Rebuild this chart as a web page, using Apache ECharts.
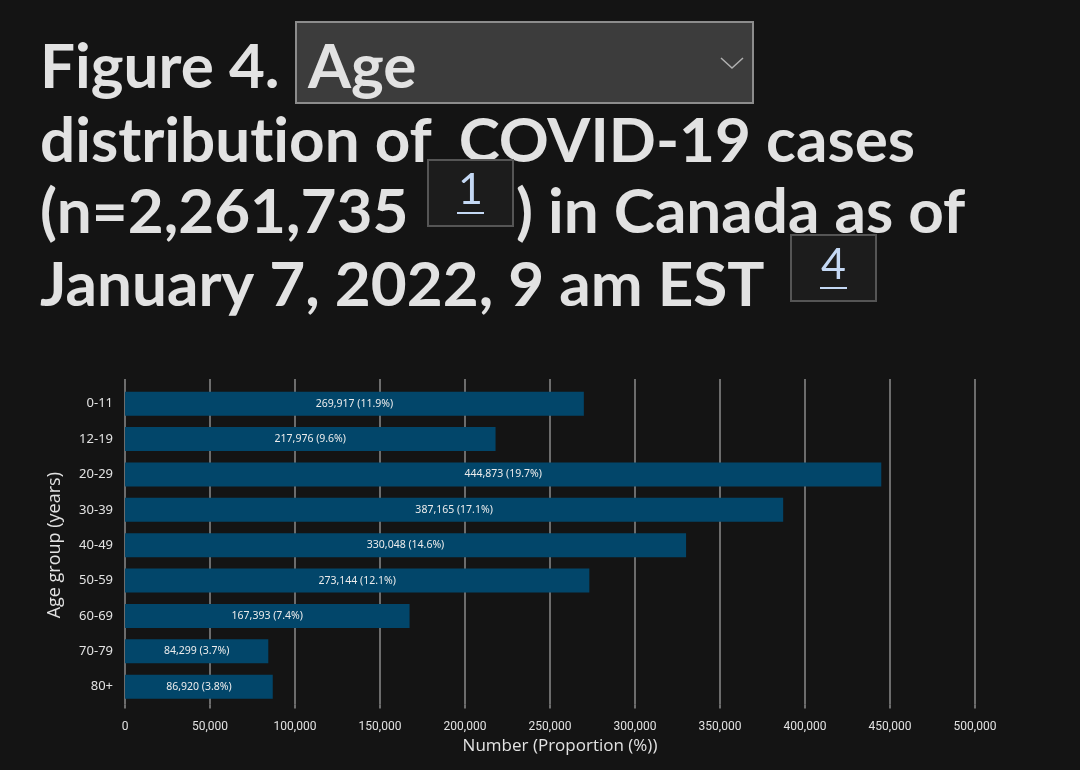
<!DOCTYPE html>
<html>
<head>
<meta charset="utf-8">
<title>Figure 4. Age distribution of COVID-19 cases</title>
<script src="https://cdn.jsdelivr.net/npm/echarts@6/dist/echarts.min.js"></script>
<style>
html, body { margin: 0; padding: 0; background: #141414; }
#chart { width: 1080px; height: 770px; }
</style>
</head>
<body>
<div id="chart"></div>
<script>
/* data */
var ageGroups = ["0-11", "12-19", "20-29", "30-39", "40-49", "50-59", "60-69", "70-79", "80+"];
var caseCounts = [269917, 217976, 444873, 387165, 330048, 273144, 167393, 84299, 86920];
var caseShares = [11.9, 9.6, 19.7, 17.1, 14.6, 12.1, 7.4, 3.7, 3.8];

// \u200C keeps Lato from drawing the "ti" ligature
var titleLines = ["Figure 4.", "distribut\u200Cion of", "COVID-19 cases", "(n=2,261,735", ") in Canada as of", "January 7, 2022, 9 am EST"];
var dropdownText = "Age";
var footnotes = ["1", "4"];

var titleColor = "#e2e2e2";
var titleFont = "bold 62px Lato";

function fmt(n) {
    return n.toString().replace(/\B(?=(\d{3})+(?!\d))/g, ",");
}

function titleText(str, x, y, align) {
    return {
        type: "text",
        x: x, y: y,
        style: { text: str, font: titleFont, fill: titleColor, align: align || "left", verticalAlign: "middle" }
    };
}

function footnoteBox(num, x, y) {
    return {
        type: "group",
        x: x, y: y,
        z: 10,
        children: [
            { type: "rect", shape: { x: 0, y: 0, width: 85, height: 66 },
              style: { fill: "#1c1c1c", stroke: "#555555", lineWidth: 2 } },
            { type: "text", x: 42.5, y: 30,
              style: { text: num, font: "43px Lato", fill: "#c4d8f4", align: "center", verticalAlign: "middle" } },
            { type: "line", shape: { x1: 29, y1: 53, x2: 56, y2: 53 },
              style: { stroke: "#c4d8f4", lineWidth: 2 } }
        ]
    };
}

var labels = [];
for (var i = 0; i < caseCounts.length; ++ i) {
    labels.push(fmt(caseCounts[i]) + " (" + caseShares[i].toFixed(1) + "%)");
}

var chart = echarts.init(document.getElementById("chart"));
var option = {
    backgroundColor: "#141414",
    animation: false,
    grid: { left: 125, right: 105, top: 386, height: 318.4 },
    xAxis: [{
        type: "value",
        min: 0, max: 500000, interval: 50000,
        name: "Number (Proportion (%))",
        nameLocation: "middle",
        nameGap: 33,
        nameTextStyle: { color: "#e2e2e2", fontFamily: "Open Sans", fontSize: 17, padding: [0, 0, 0, 20] },
        axisLine: { show: false },
        axisTick: { show: true, length: 4, lineStyle: { color: "#8a8a8a", width: 1.5 } },
        axisLabel: {
            color: "#e2e2e2", fontFamily: "Roboto", fontSize: 12, margin: 17,
            formatter: function (v) { return fmt(v); }
        },
        splitLine: { show: true, lineStyle: { color: "#8a8a8a", width: 1.5 } }
    }, {
        type: "value",
        position: "top",
        min: 0, max: 500000, interval: 50000,
        axisLine: { show: false },
        axisTick: { show: true, length: 7, lineStyle: { color: "#8a8a8a", width: 1.5 } },
        axisLabel: { show: false },
        splitLine: { show: false }
    }],
    yAxis: {
        type: "category",
        inverse: true,
        data: ageGroups,
        name: "Age group (years)",
        nameLocation: "middle",
        nameGap: 61,
        nameRotate: 90,
        nameTextStyle: { color: "#e2e2e2", fontFamily: "Open Sans", fontSize: 18 },
        axisLine: { show: false },
        axisTick: { show: false },
        axisLabel: { color: "#e2e2e2", fontFamily: "Noto Sans", fontSize: 13, margin: 12 }
    },
    series: [{
        type: "bar",
        data: caseCounts,
        barWidth: 24,
        itemStyle: { color: "#02466a" },
        label: {
            show: true,
            position: "inside",
            color: "#ececec",
            fontFamily: "Noto Sans",
            fontSize: 10.5,
            formatter: function (p) { return labels[p.dataIndex]; }
        }
    }],
    graphic: [
        titleText(titleLines[0], 40, 68),
        {
            type: "group",
            x: 296, y: 22,
            children: [
                { type: "rect", shape: { x: 0, y: 0, width: 457, height: 81 },
                  style: { fill: "#3c3c3c", stroke: "#8c8c8c", lineWidth: 2 } },
                { type: "text", x: 12, y: 46,
                  style: { text: dropdownText, font: titleFont, fill: titleColor, verticalAlign: "middle" } },
                { type: "polyline", shape: { points: [[425, 36], [436, 46], [447, 36]] },
                  style: { stroke: "#b0b0b0", lineWidth: 1.5, fill: null } }
            ]
        },
        titleText(titleLines[1], 40, 142),
        titleText(titleLines[2], 915, 142, "right"),
        titleText(titleLines[3], 40, 213),
        titleText(titleLines[4], 516, 213),
        titleText(titleLines[5], 40, 286),
        footnoteBox(footnotes[0], 428, 160),
        footnoteBox(footnotes[1], 791, 235)
    ]
};
chart.setOption(option);
</script>
</body>
</html>
